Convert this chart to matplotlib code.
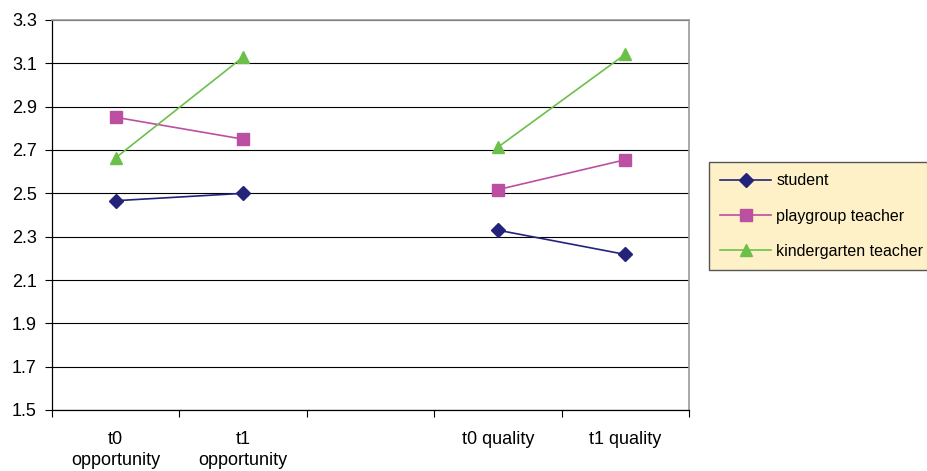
import numpy as np
import matplotlib.pyplot as plt

plt.rcParams['font.family'] = ['Liberation Sans', 'DejaVu Sans']

# categories (the third slot is an empty spacer between the two groups)
categories = ['t0\nopportunity', 't1\nopportunity', '', 't0 quality', 't1 quality']
student = [2.466, 2.50, np.nan, 2.33, 2.218]
playgroup = [2.851, 2.75, np.nan, 2.517, 2.655]
kindergarten = [2.664, 3.129, np.nan, 2.713, 3.142]

series = [
    ('student', student, '#23237a', 'D', 7),
    ('playgroup teacher', playgroup, '#bb4fa2', 's', 8.5),
    ('kindergarten teacher', kindergarten, '#6cc04a', '^', 9),
]

fig = plt.figure(figsize=(9.27, 4.71), dpi=100)
ax = fig.add_axes([52 / 927, 61 / 471, 637 / 927, 390 / 471])

x = np.arange(len(categories))
for label, vals, color, marker, ms in series:
    ax.plot(x, vals, color=color, marker=marker, markersize=ms, linewidth=1.2,
            markeredgecolor=color, label=label)

ax.set_xlim(-0.5, len(categories) - 0.5)
ax.set_ylim(1.5, 3.3)
yt = np.arange(1.5, 3.31, 0.2)
ax.set_yticks(yt)
ax.set_yticklabels([f'{v:.1f}' for v in yt])
ax.yaxis.grid(True, color='black', linewidth=0.8)
ax.set_axisbelow(True)

# tick marks between categories, labels centred on categories
ax.set_xticks(np.arange(-0.5, len(categories) + 0.5, 1.0))
ax.set_xticklabels([])
ax.set_xticks(x, minor=True)
ax.set_xticklabels(categories, minor=True, linespacing=1.3)
ax.tick_params(axis='x', which='minor', length=0, pad=15, labelsize=13)
ax.tick_params(axis='x', which='major', length=5, direction='out', width=0.8)
ax.tick_params(axis='y', length=5, direction='out', width=0.8, labelsize=13, pad=6)

for side in ['left', 'bottom']:
    ax.spines[side].set_color('black')
    ax.spines[side].set_linewidth(0.9)
for side in ['top', 'right']:
    ax.spines[side].set_color('#9a9a9a')
    ax.spines[side].set_linewidth(1.2)

# legend box runs off the right edge of the figure
leg = fig.legend(loc='upper left', bbox_to_anchor=(709 / 927, 1 - 162 / 471, 240 / 927, 0),
                 mode='expand', frameon=True, fancybox=False, facecolor='#fef0c7',
                 edgecolor='#555555', framealpha=1, fontsize=11.5, labelspacing=1.28,
                 handlelength=3.2, handletextpad=0.3, borderpad=0.7, borderaxespad=0)
leg.get_frame().set_linewidth(1.0)

fig.savefig('out.png', dpi=100)
